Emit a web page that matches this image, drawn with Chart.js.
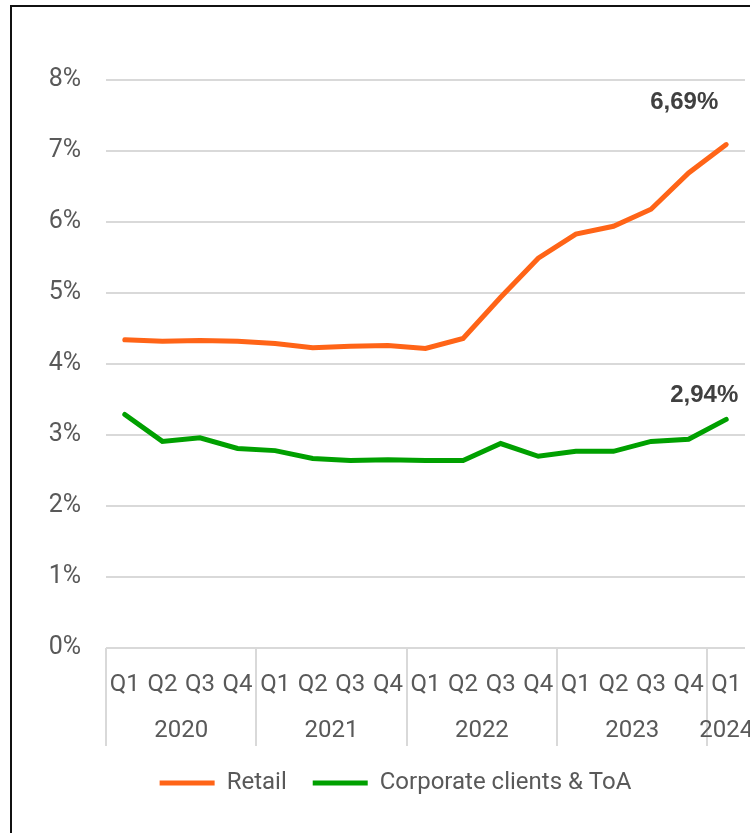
<!DOCTYPE html>
<html>
<head>
<meta charset="utf-8">
<script src="https://cdn.jsdelivr.net/npm/chart.js@4.4.1/dist/chart.umd.min.js"></script>
<style>
  body { margin: 0; background: #fff; overflow: hidden; }
  #wrap { position: relative; width: 750px; height: 833px; }
  #frame { position: absolute; left: 10px; top: 5px; width: 900px; height: 900px; border: 2px solid #111; box-sizing: border-box; pointer-events: none; }
  canvas { position: absolute; left: 0; top: 0; }
</style>
</head>
<body>
<div id="wrap">
  <canvas id="grafico" width="750" height="833"></canvas>
  <div id="frame"></div>
</div>
<script>
const quarters = ['Q1', 'Q2', 'Q3', 'Q4', 'Q1', 'Q2', 'Q3', 'Q4', 'Q1', 'Q2', 'Q3', 'Q4', 'Q1', 'Q2', 'Q3', 'Q4', 'Q1'];
const years = ['2020', '2021', '2022', '2023', '2024'];
const yearStart = [0, 4, 8, 12, 16];
const retail = [4.34, 4.32, 4.33, 4.32, 4.29, 4.23, 4.25, 4.26, 4.22, 4.36, 4.94, 5.49, 5.83, 5.94, 6.18, 6.69, 7.09];
const corporate = [3.29, 2.91, 2.96, 2.81, 2.78, 2.67, 2.64, 2.65, 2.64, 2.64, 2.88, 2.70, 2.77, 2.77, 2.91, 2.94, 3.22];
const endLabels = ['6,69%', '2,94%'];

const grey = '#595959';
const gridGrey = '#d9d9d9';

// etiquetas de dos niveles (trimestre / año) y separadores verticales
const twoLevelAxis = {
  id: 'twoLevelAxis',
  afterDraw(chart) {
    const { ctx, scales: { x }, chartArea } = chart;
    const step = x.getPixelForValue(1) - x.getPixelForValue(0);
    ctx.save();
    ctx.strokeStyle = gridGrey;
    ctx.lineWidth = 2;
    yearStart.forEach(i => {
      const px = Math.round(x.getPixelForValue(i) - step / 2);
      ctx.beginPath();
      ctx.moveTo(px, chartArea.bottom);
      ctx.lineTo(px, chartArea.bottom + 98);
      ctx.stroke();
    });
    ctx.fillStyle = grey;
    ctx.font = '24px Roboto';
    ctx.textAlign = 'center';
    ctx.textBaseline = 'middle';
    quarters.forEach((q, i) => {
      ctx.fillText(q, x.getPixelForValue(i), chartArea.bottom + 37);
    });
    years.forEach((y, k) => {
      const first = yearStart[k];
      const last = k + 1 < yearStart.length ? yearStart[k + 1] - 1 : quarters.length - 1;
      const cx = (x.getPixelForValue(first) + x.getPixelForValue(last)) / 2;
      ctx.fillText(y, cx, chartArea.bottom + 83);
    });
    ctx.restore();
  }
};

// valores destacados al final de cada serie
const endValues = {
  id: 'endValues',
  afterDatasetsDraw(chart) {
    const { ctx, scales: { x, y } } = chart;
    const last = quarters.length - 1;
    const offsets = [[-42, -42], [-22, -24]];
    ctx.save();
    ctx.fillStyle = '#404040';
    ctx.font = 'bold 24px "Liberation Sans"';
    ctx.textAlign = 'center';
    ctx.textBaseline = 'middle';
    [retail, corporate].forEach((serie, k) => {
      const px = x.getPixelForValue(last) + offsets[k][0];
      const py = y.getPixelForValue(serie[last]) + offsets[k][1];
      ctx.fillText(endLabels[k], px, py);
    });
    ctx.restore();
  }
};

new Chart(document.getElementById('grafico'), {
  type: 'line',
  data: {
    labels: quarters,
    datasets: [
      {
        label: 'Retail',
        data: retail,
        borderColor: '#ff6417',
        backgroundColor: '#ff6417',
        borderWidth: 5,
        pointRadius: 0,
        tension: 0,
        borderCapStyle: 'round'
      },
      {
        label: 'Corporate clients & ToA',
        data: corporate,
        borderColor: '#00a000',
        backgroundColor: '#00a000',
        borderWidth: 5,
        pointRadius: 0,
        tension: 0,
        borderCapStyle: 'round'
      }
    ]
  },
  options: {
    responsive: false,
    animation: false,
    layout: { padding: { top: 80, right: 5, bottom: 28, left: 46 } },
    scales: {
      x: {
        offset: true,
        grid: { display: false },
        border: { display: false },
        ticks: { display: false },
        afterFit(scale) { scale.height = 97; }
      },
      y: {
        min: 0,
        max: 8,
        ticks: {
          stepSize: 1,
          padding: 25,
          color: grey,
          font: { family: 'Roboto', size: 25 },
          callback: v => v + '%'
        },
        grid: { color: gridGrey, lineWidth: 2, drawTicks: false },
        border: { display: false },
        afterFit(scale) { scale.width = 60; }
      }
    },
    plugins: {
      legend: {
        position: 'bottom',
        labels: {
          usePointStyle: true,
          pointStyle: 'line',
          pointStyleWidth: 55,
          boxWidth: 55,
          color: grey,
          font: { family: 'Roboto', size: 24 },
          padding: 26
        }
      },
      tooltip: { enabled: false }
    }
  },
  plugins: [twoLevelAxis, endValues]
});
</script>
</body>
</html>
